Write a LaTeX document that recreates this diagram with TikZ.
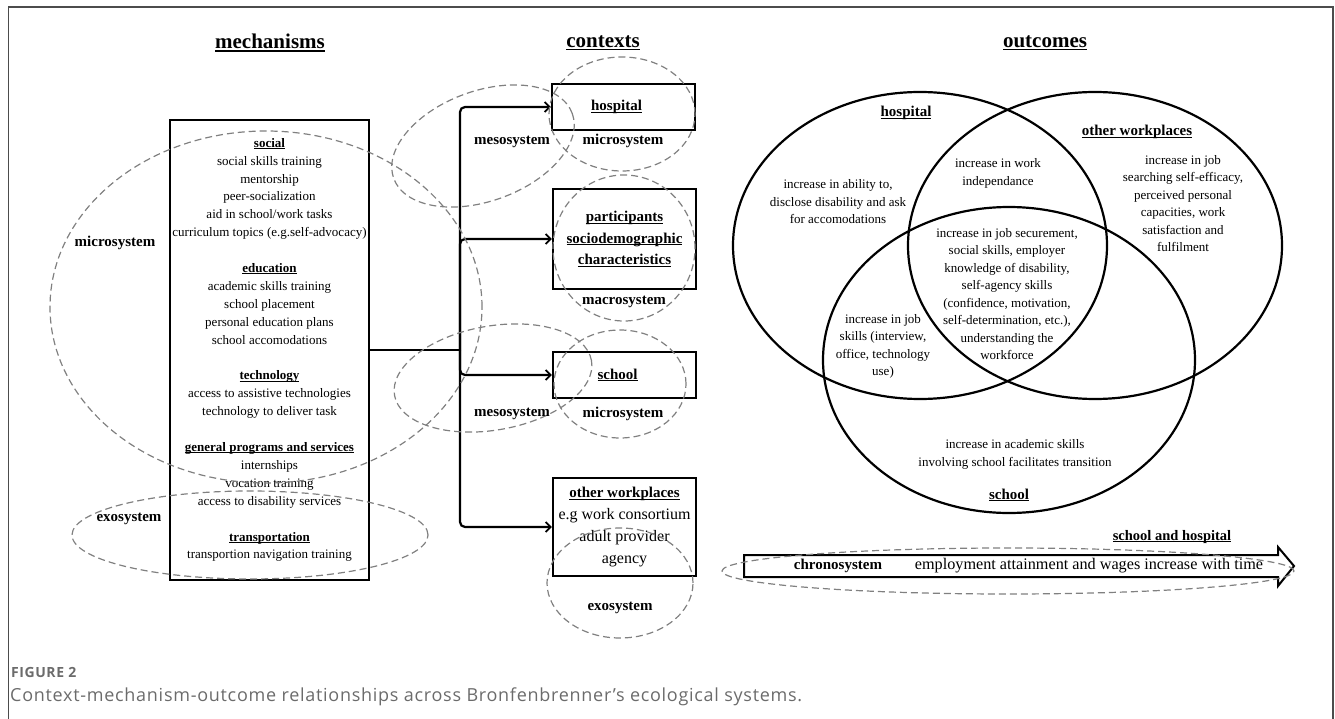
\documentclass[tikz,border=0pt]{standalone}
\usepackage{fontspec}
\setmainfont{Liberation Serif}
\newfontfamily\capfont[LetterSpace=4]{Open Sans}
\usetikzlibrary{arrows.meta}
\newcommand{\uln}[1]{\setbox0\hbox{#1}\rlap{\rule[-0.13em]{\wd0}{0.065em}}\box0}
\tikzset{
 dashell/.style={draw=black!50, line width=1.2pt, dash pattern=on 7pt off 4pt},
 venn/.style={draw=black, line width=2.2pt},
 cbox/.style={draw, line width=2.4pt, minimum width=143pt, align=center, inner sep=0pt},
 conn/.style={line width=2.2pt, rounded corners=5pt, -{Straight Barb[length=5pt,width=10pt,line width=1.8pt]}},
 lbl/.style={font=\fontsize{15}{18}\selectfont\bfseries, inner sep=0pt},
 vtxt/.style={font=\fontsize{13}{17.5}\selectfont, align=center, inner sep=0pt},
 vhead/.style={font=\fontsize{15}{18}\selectfont\bfseries, inner sep=0pt},
 ttl/.style={font=\fontsize{21}{24}\selectfont\bfseries, inner sep=0pt}
}
\begin{document}
\begin{tikzpicture}[x=1pt,y=-1pt]
\useasboundingbox (0,0) rectangle (1335,719);
% frame
\draw[line width=1.8pt, black!70] (8.5,719) -- (8.5,7) -- (1333,7) -- (1333,719);

% titles
\node[ttl] (tmech) at (270,43) {\uln{mechanisms}};
\node[ttl] (tctx) at (603,43) {\uln{contexts}};
\node[ttl] (tout) at (1045,43) {\uln{outcomes}};

% mechanisms box
\node[draw, line width=2.4pt, minimum width=199pt, minimum height=460pt, inner sep=0pt, align=center,
  font=\fontsize{13}{17.9}\selectfont] (mech) at (269.5,350) {%
\uln{\textbf{social}}\\ social skills training\\ mentorship\\ peer-socialization\\ aid in school/work tasks\\ curriculum topics (e.g.self-advocacy)\\[17.9pt]
\uln{\textbf{education}}\\ academic skills training\\ school placement\\ personal education plans\\ school accomodations\\[17.9pt]
\uln{\textbf{technology}}\\ access to assistive technologies\\ technology to deliver task\\[17.9pt]
\uln{\textbf{general programs and services}}\\ internships\\ vocation training\\ access to disability services\\[17.9pt]
\uln{\textbf{transportation}}\\ transportion navigation training};

% context boxes
\node[cbox, minimum height=46pt, font=\fontsize{15}{18}\selectfont\bfseries] (hosp) at (623.5,107) {\uln{hospital}\hspace*{14pt}};
\node[cbox, minimum height=100pt, font=\fontsize{15}{21.5}\selectfont\bfseries] (part) at (624.5,239) {\uln{participants}\\ \uln{sociodemographic}\\ \uln{characteristics}};
\node[cbox, minimum height=46pt, font=\fontsize{15}{18}\selectfont\bfseries] (school) at (624.5,375) {\uln{school}\hspace*{14pt}};
\node[cbox, minimum height=98pt, font=\fontsize{16}{22}\selectfont] (work) at (624.5,527) {\uln{\fontsize{15}{22}\selectfont\textbf{other workplaces}}\\ e.g work consortium\\ adult provider\\ agency};

% connectors
\coordinate (j) at (460,350);
\draw[line width=2.2pt] (mech.east) -- (j);
\draw[conn] (j) |- (hosp.west);
\draw[conn] (j) |- (part.west);
\draw[conn] (j) |- (school.west);
\draw[conn] (j) |- (work.west);

% dashed system ellipses
\draw[dashell] (266,307) ellipse [x radius=216pt, y radius=176pt];
\draw[dashell] (250,535) ellipse [x radius=178pt, y radius=44pt];
\draw[dashell] (622,114) ellipse [x radius=73pt, y radius=57pt];
\draw[dashell, rotate around={20:(483,146)}] (483,146) ellipse [x radius=95pt, y radius=55pt];
\draw[dashell] (624,248) ellipse [x radius=71pt, y radius=73pt];
\draw[dashell] (620,384) ellipse [x radius=66pt, y radius=54pt];
\draw[dashell, rotate around={10:(493,378)}] (493,378) ellipse [x radius=100pt, y radius=52pt];
\draw[dashell] (620,583) ellipse [x radius=73pt, y radius=55pt];

% system labels
\node[lbl] (lmicro1) at (115,243) {microsystem};
\node[lbl] (lexo1) at (129,519) {exosystem};
\node[lbl] (lmeso1) at (512,142) {mesosystem};
\node[lbl] (lmicro2) at (623,141) {microsystem};
\node[lbl] (lmacro) at (624,302) {macrosystem};
\node[lbl] (lmeso2) at (512,414) {mesosystem};
\node[lbl] (lmicro3) at (623,414) {microsystem};
\node[lbl] (lexo2) at (620,608) {exosystem};

% Venn
\draw[venn] (920,245.5) ellipse [x radius=187pt, y radius=153.5pt];
\draw[venn] (1095,245.5) ellipse [x radius=187pt, y radius=153.5pt];
\draw[venn] (1009,360) ellipse [x radius=186pt, y radius=153pt];

\node[vhead] (vh1) at (906,113) {\uln{hospital}};
\node[vhead] (vh2) at (1137,132) {\uln{other workplaces}};
\node[vhead] (vh3) at (1009,495) {\uln{school}};

\node[vtxt] (v1) at (838,202) {increase in ability to,\\ disclose disability and ask\\ for accomodations};
\node[vtxt] (v2) at (998,173.5) {increase in work\\ independance};
\node[vtxt] (v3) at (1183,203.5) {increase in job\\ searching self-efficacy,\\ perceived personal\\ capacities, work\\ satisfaction and\\ fulfilment};
\node[vtxt] (v4) at (1007,294) {increase in job securement,\\ social skills, employer\\ knowledge of disability,\\ self-agency skills\\ (confidence, motivation,\\ self-determination, etc.),\\ understanding the\\ workforce};
\node[vtxt] (v5) at (883,346.5) {increase in job\\ skills (interview,\\ office, technology\\ use)};
\node[vtxt] (v6) at (1015,454.5) {increase in academic skills\\ involving school facilitates transition};

% chronosystem
\node[font=\fontsize{14.5}{17}\selectfont\bfseries, inner sep=0pt] (sh) at (1172,537) {\uln{school and hospital}};
\draw[line width=2pt, line join=miter] (744,555) -- (1278,555) -- (1278,547) -- (1294,566) -- (1278,586) -- (1278,577) -- (744,577) -- cycle;
\node[lbl] (chrono) at (838,566) {chronosystem};
\node[font=\fontsize{16.2}{18}\selectfont, inner sep=0pt] (emp) at (1089,566) {employment attainment and wages increase with time};
\draw[dashell] (1008,571) ellipse [x radius=286pt, y radius=23pt];

% caption
\node[anchor=west, font=\capfont\fontsize{14}{16}\selectfont\bfseries, text=black!58, inner sep=0pt] (fig) at (11,672) {FIGURE 2};
\node[anchor=west, font=\capfont\fontsize{18}{21}\selectfont, text=black!58, inner sep=0pt] (cap) at (10,697) {Context-mechanism-outcome relationships across Bronfenbrenner’s ecological systems.};
\end{tikzpicture}
\end{document}
